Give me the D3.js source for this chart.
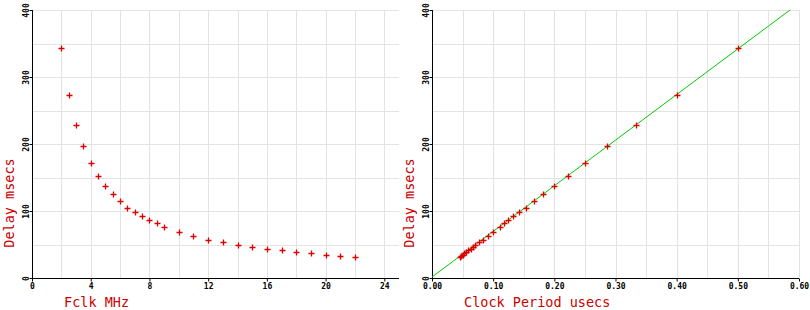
<!DOCTYPE html>
<html><head><meta charset="utf-8">
<script src="https://cdn.jsdelivr.net/npm/d3@7"></script>
<style>body{margin:0;background:#fff}svg{display:block}</style>
</head><body>
<svg id="c" width="810" height="310"></svg>
<script>
// Data
const fclkMHz = [2, 2.5, 3, 3.5, 4, 4.5, 5, 5.5, 6, 6.5, 7, 7.5, 8, 8.5, 9, 10, 11, 12, 13, 14, 15, 16, 17, 18, 19, 20, 21, 22];
const periodUsecs = [0.500, 0.400, 0.333, 0.286, 0.250, 0.222, 0.200, 0.182, 0.167, 0.154, 0.143, 0.133, 0.125, 0.118, 0.111, 0.100, 0.091, 0.083, 0.077, 0.071, 0.067, 0.063, 0.059, 0.056, 0.053, 0.050, 0.048, 0.045];
const delayMsecs = [343, 273, 228, 197, 171.5, 152, 137, 125, 114.5, 104.5, 98.5, 92, 86, 81.5, 76, 68.7, 62.3, 56.8, 53.5, 49, 45.8, 43.3, 41.5, 38.3, 36.8, 35, 32.5, 31];
const fitX = [0, 0.6];
const fitY = [1.5, 410];
const leftXTicks = [0, 4, 8, 12, 16, 20, 24];
const rightXTicks = [0, 0.1, 0.2, 0.3, 0.4, 0.5, 0.6];
const yTicks = [0, 100, 200, 300, 400];

const svg = d3.select("#c");
const RED = "#dd0000", TITLE = "#cc0000", GREEN = "#00cc00", GRID = "#e3e3e3";
const mono = "'DejaVu Sans Mono', 'Liberation Mono', monospace";

function panel(opt) {
  const x = d3.scaleLinear().domain(opt.xDomain).range(opt.xRange);
  const y = d3.scaleLinear().domain([0, 400]).range([278, 10]);
  const g = svg.append("g");
  // grid
  g.append("g").selectAll("line").data(d3.range(opt.xDomain[0], opt.xDomain[1] + 1e-9, opt.gridStep))
    .join("line").attr("x1", d => Math.round(x(d)) + 0.5).attr("x2", d => Math.round(x(d)) + 0.5)
    .attr("y1", y(400)).attr("y2", y(0)).attr("stroke", GRID);
  g.append("g").selectAll("line").data(d3.range(50, 401, 50))
    .join("line").attr("y1", d => Math.round(y(d)) + 0.5).attr("y2", d => Math.round(y(d)) + 0.5)
    .attr("x1", x.range()[0]).attr("x2", x.range()[1]).attr("stroke", GRID);
  // axes
  const xa = d3.axisBottom(x).tickValues(opt.xTicks).tickSize(3).tickFormat(opt.fmt);
  const xg = g.append("g").attr("transform", `translate(0,${y(0) + 0.5})`).call(xa);
  xg.select(".domain").attr("stroke", "#000").attr("d", `M${x.range()[0]},0H${x.range()[1]}`);
  xg.selectAll("text").attr("font-family", mono).attr("font-size", 8).attr("font-weight", "bold").attr("fill", "#000").attr("dy", null).attr("y", 10);
  const ya = d3.axisLeft(y).tickValues(yTicks).tickSize(3).tickFormat(d3.format("d"));
  const yg = g.append("g").attr("transform", `translate(${x.range()[0] + 0.5},0)`).call(ya);
  yg.select(".domain").attr("stroke", "#000").attr("d", `M0,${y(400)}V${y(0)}`);
  yg.selectAll("text").attr("font-family", mono).attr("font-size", 8).attr("font-weight", "bold").attr("fill", "#000")
    .attr("x", null).attr("dy", null).attr("text-anchor", "middle")
    .attr("transform", "translate(-4,0) rotate(-90)");
  // clip
  const cid = "clip" + opt.id;
  svg.append("clipPath").attr("id", cid).append("rect")
    .attr("x", x.range()[0]).attr("y", y(400)).attr("width", x.range()[1] - x.range()[0]).attr("height", y(0) - y(400));
  if (opt.fit) {
    g.append("path").attr("clip-path", `url(#${cid})`)
      .attr("d", d3.line().x(d => x(d[0])).y(d => y(d[1]))(fitX.map((v, i) => [v, fitY[i]])))
      .attr("stroke", GREEN).attr("fill", "none").attr("stroke-width", 1);
  }
  // points
  g.append("g").selectAll("path").data(opt.xs.map((v, i) => [v, delayMsecs[i]]))
    .join("path").attr("d", d => { const px = Math.round(x(d[0])) + 0.5, py = Math.round(y(d[1])) + 0.5; return `M${px - 3},${py}H${px + 3}M${px},${py - 3}V${py + 3}`; })
    .attr("stroke", RED).attr("stroke-width", 1.3).attr("fill", "none");
  // titles
  g.append("text").text(opt.xTitle).attr("x", opt.xTitleX).attr("y", 307)
    .attr("font-family", mono).attr("font-size", 13.5).attr("fill", TITLE);
  g.append("text").text("Delay msecs").attr("transform", `translate(${x.range()[0] - 18},203) rotate(-90)`)
    .attr("text-anchor", "middle").attr("font-family", mono).attr("font-size", 13.5).attr("fill", TITLE);
}

panel({id: "L", xDomain: [0, 25], xRange: [32, 399], gridStep: 2, xTicks: leftXTicks, fmt: d3.format("d"),
  xs: fclkMHz, fit: false, xTitle: "Fclk MHz", xTitleX: 64});
panel({id: "R", xDomain: [0, 0.6], xRange: [432, 799], gridStep: 0.05, xTicks: rightXTicks, fmt: d3.format(".2f"),
  xs: periodUsecs, fit: true, xTitle: "Clock Period usecs", xTitleX: 464});
</script>
</body></html>
